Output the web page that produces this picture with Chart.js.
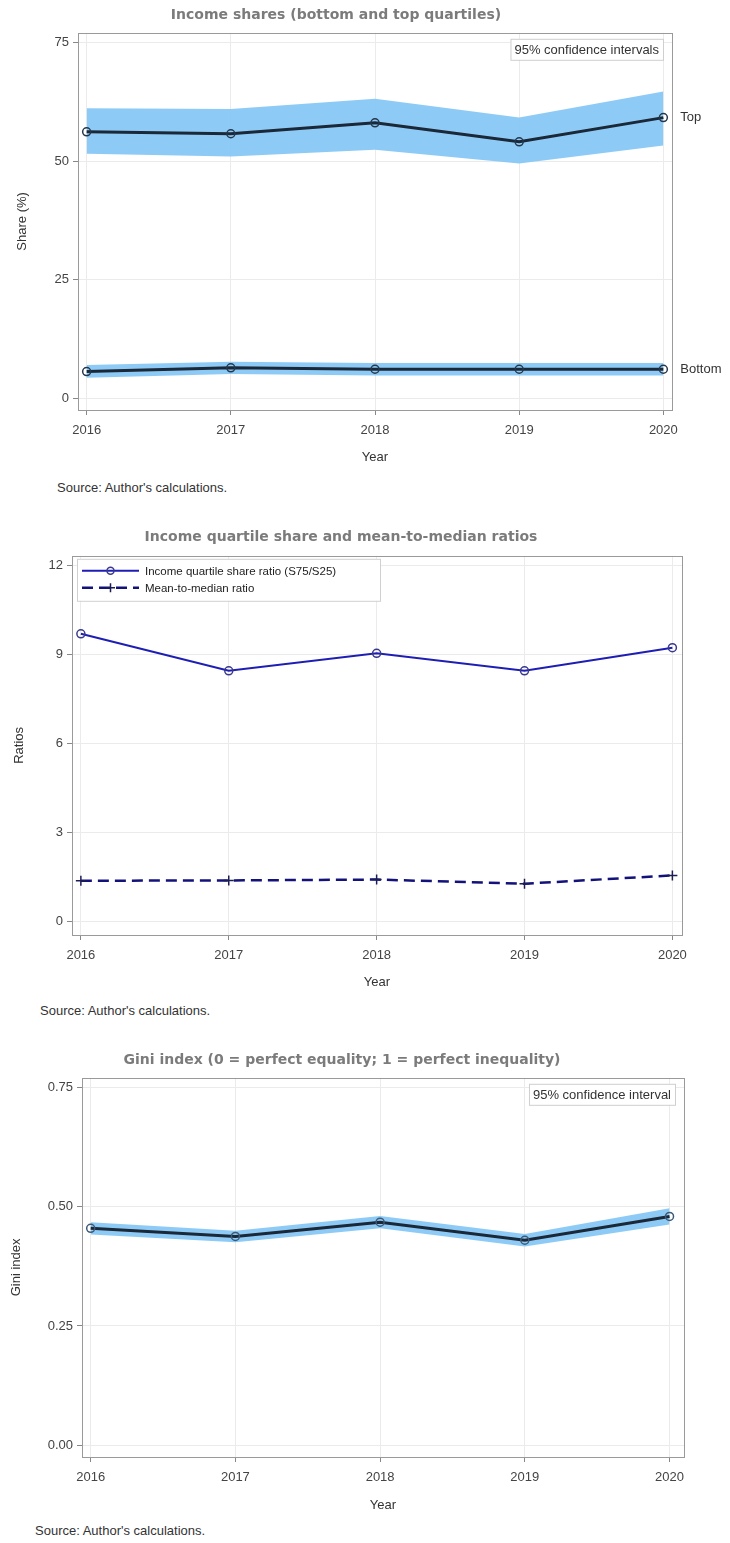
<!DOCTYPE html>
<html>
<head>
<meta charset="utf-8">
<script src="https://cdn.jsdelivr.net/npm/chart.js@4.4.1/dist/chart.umd.min.js"></script>
<style>
  body { margin: 0; background: #fff; width: 730px; height: 1543px; position: relative; overflow: hidden;
         font-family: "Liberation Sans", Arial, sans-serif; }
  .box { position: absolute; left: 0; width: 730px; }
  .src { position: absolute; font-size: 13px; color: #333; white-space: nowrap; }
</style>
</head>
<body>
<div class="box" style="top:0;height:470px"><canvas id="sharesChart"></canvas></div>
<div class="src" style="left:57px;top:480px">Source: Author's calculations.</div>
<div class="box" style="top:520px;height:475px"><canvas id="ratiosChart"></canvas></div>
<div class="src" style="left:40px;top:1003px">Source: Author's calculations.</div>
<div class="box" style="top:1043px;height:475px"><canvas id="giniChart"></canvas></div>
<div class="src" style="left:35px;top:1523px">Source: Author's calculations.</div>

<script>
// Datos
const years = [2016, 2017, 2018, 2019, 2020];

const topShare    = [56.2, 55.8, 58.1, 54.1, 59.2];
const topUpper    = [61.2, 61.0, 63.2, 59.2, 64.7];
const topLower    = [51.6, 51.0, 52.4, 49.5, 53.3];
const bottomShare = [5.6, 6.4, 6.1, 6.1, 6.1];
const bottomUpper = [7.0, 7.7, 7.4, 7.4, 7.4];
const bottomLower = [4.3, 5.1, 4.8, 4.8, 4.8];
const shareTicks  = [0, 25, 50, 75];

const quartileRatio = [9.71, 8.46, 9.05, 8.46, 9.24];
const meanMedian    = [1.38, 1.39, 1.42, 1.28, 1.56];
const ratioTicks    = [0, 3, 6, 9, 12];

const gini      = [0.455, 0.438, 0.468, 0.430, 0.480];
const giniUpper = [0.468, 0.450, 0.481, 0.443, 0.497];
const giniLower = [0.442, 0.426, 0.455, 0.417, 0.463];
const giniTicks = [0, 0.25, 0.5, 0.75];

const BAND = "rgba(135,200,246,0.95)";
const DARK = "#1b2838";
const TICK_FONT = { family: "'Liberation Sans', Arial, sans-serif", size: 13 };
const TITLE_FONT = { family: "'DejaVu Sans', sans-serif", size: 14, weight: "bold" };

function pts(vals) {
  return years.map((x, i) => ({ x: x, y: vals[i] }));
}

// Marco alrededor del área del gráfico
const framePlugin = {
  id: "frame",
  afterDraw(chart) {
    const a = chart.chartArea, ctx = chart.ctx;
    ctx.save();
    ctx.strokeStyle = "#9a9a9a";
    ctx.lineWidth = 1;
    ctx.strokeRect(Math.round(a.left) + 0.5, Math.round(a.top) + 0.5, Math.round(a.right - a.left), Math.round(a.bottom - a.top));
    ctx.restore();
  }
};

// Etiquetas al final de las líneas (Top / Bottom)
const endLabelsPlugin = {
  id: "endLabels",
  afterDatasetsDraw(chart, args, opts) {
    if (!opts.items) return;
    const ctx = chart.ctx;
    ctx.save();
    ctx.font = "13px 'Liberation Sans', Arial, sans-serif";
    ctx.fillStyle = "#333";
    ctx.textBaseline = "middle";
    opts.items.forEach(it => {
      const meta = chart.getDatasetMeta(it.dataset);
      const p = meta.data[meta.data.length - 1];
      ctx.fillText(it.text, p.x + 17, p.y);
    });
    ctx.restore();
  }
};

// Recuadro de texto arriba a la derecha
const insetPlugin = {
  id: "inset",
  afterDraw(chart, args, opts) {
    if (!opts.text) return;
    const a = chart.chartArea, ctx = chart.ctx;
    ctx.save();
    ctx.font = "13px 'Liberation Sans', Arial, sans-serif";
    const w = ctx.measureText(opts.text).width + 8;
    const x = a.right - 9 - w, y = a.top + 6, h = 21;
    ctx.fillStyle = "#fff";
    ctx.fillRect(x, y, w, h);
    ctx.strokeStyle = "#cfcfcf";
    ctx.strokeRect(x + 0.5, y + 0.5, w, h);
    ctx.fillStyle = "#333";
    ctx.textBaseline = "middle";
    ctx.fillText(opts.text, x + 4, y + h / 2 + 1);
    ctx.restore();
  }
};

// Leyenda dentro del área (gráfico de ratios)
const insideLegendPlugin = {
  id: "insideLegend",
  afterDraw(chart, args, opts) {
    if (!opts.items) return;
    const a = chart.chartArea, ctx = chart.ctx;
    const x = a.left + 5, y = a.top + 3, w = 303, h = 42;
    ctx.save();
    ctx.fillStyle = "#fff";
    ctx.fillRect(x, y, w, h);
    ctx.strokeStyle = "#d0d0d0";
    ctx.lineWidth = 1;
    ctx.strokeRect(x + 0.5, y + 0.5, w, h);
    ctx.font = "11.5px 'Liberation Sans', Arial, sans-serif";
    ctx.textBaseline = "middle";
    opts.items.forEach((it, i) => {
      const ds = chart.data.datasets[it.dataset];
      const ry = y + 12 + i * 17;
      ctx.strokeStyle = ds.borderColor;
      ctx.lineWidth = ds.borderWidth;
      ctx.setLineDash(ds.borderDash || []);
      ctx.beginPath();
      ctx.moveTo(x + 5, ry);
      ctx.lineTo(x + 62, ry);
      ctx.stroke();
      ctx.setLineDash([]);
      ctx.lineWidth = 1.5;
      ctx.strokeStyle = ds.pointBorderColor;
      ctx.beginPath();
      if (ds.pointStyle === "crossRot" || ds.pointStyle === "cross") {
        ctx.moveTo(x + 29, ry); ctx.lineTo(x + 38, ry);
        ctx.moveTo(x + 33.5, ry - 4.5); ctx.lineTo(x + 33.5, ry + 4.5);
      } else {
        ctx.arc(x + 33.5, ry, 3.5, 0, Math.PI * 2);
      }
      ctx.stroke();
      ctx.fillStyle = "#222";
      ctx.fillText(it.text, x + 68, ry + 1);
    });
    ctx.restore();
  }
};

function xAxis(min, max, height) {
  return {
    type: "linear",
    min: min,
    max: max,
    afterBuildTicks: s => { s.ticks = years.map(v => ({ value: v })); },
    afterFit: s => { s.height = height; },
    ticks: { font: TICK_FONT, color: "#444", padding: 8, maxRotation: 0, callback: v => String(v) },
    grid: { color: "#ebebeb", tickColor: "#888", tickLength: 5 },
    border: { display: false },
    title: { display: true, text: "Year", font: TICK_FONT, color: "#333", padding: { top: 0, bottom: 5 } }
  };
}

function yAxis(min, max, ticks, label, width, titlePad, fmt) {
  return {
    min: min,
    max: max,
    afterBuildTicks: s => { s.ticks = ticks.map(v => ({ value: v })); },
    afterFit: s => { s.width = width; },
    ticks: { font: TICK_FONT, color: "#444", padding: 4, callback: fmt },
    grid: { color: "#ebebeb", tickColor: "#888", tickLength: 5 },
    border: { display: false },
    title: { display: true, text: label, font: TICK_FONT, color: "#333", padding: { top: titlePad, bottom: 0 } }
  };
}

function baseOptions(title, titlePad) {
  return {
    responsive: true,
    maintainAspectRatio: false,
    animation: false,
    layout: { padding: { left: 0, right: 0, top: 0, bottom: 0 } },
    plugins: {
      legend: { display: false },
      tooltip: { enabled: false },
      title: { display: true, text: title, font: TITLE_FONT, color: "#7b7b7b", padding: titlePad }
    }
  };
}

function renderShares() {
  const opts = baseOptions("Income shares (bottom and top quartiles)", { top: 7, bottom: 9 });
  opts.layout.padding.right = 58;
  opts.scales = {
    x: xAxis(2015.94, 2020.06, 60),
    y: yAxis(-2.5, 77.1, shareTicks, "Share (%)", 78, 15, v => String(v))
  };
  opts.plugins.endLabels = { items: [{ dataset: 0, text: "Top" }, { dataset: 1, text: "Bottom" }] };
  opts.plugins.inset = { text: "95% confidence intervals" };

  const line = vals => ({
    data: pts(vals), borderColor: DARK, borderWidth: 3, pointRadius: 4,
    pointStyle: "circle", pointBackgroundColor: "rgba(0,0,0,0)", pointBorderColor: "#24384d", pointBorderWidth: 1.5
  });
  const band = (vals, fill) => ({
    data: pts(vals), borderWidth: 0, pointRadius: 0, backgroundColor: BAND, fill: fill
  });

  new Chart(document.getElementById("sharesChart"), {
    type: "line",
    data: {
      datasets: [
        line(topShare),
        line(bottomShare),
        band(topLower, false),
        band(topUpper, 2),
        band(bottomLower, false),
        band(bottomUpper, 4)
      ]
    },
    options: opts,
    plugins: [framePlugin, endLabelsPlugin, insetPlugin]
  });
}

function renderRatios() {
  const opts = baseOptions("Income quartile share and mean-to-median ratios", { top: 9, bottom: 10 });
  opts.layout.padding.right = 48;
  opts.scales = {
    x: xAxis(2015.94, 2020.065, 60),
    y: yAxis(-0.45, 12.34, ratioTicks, "Ratios", 72, 12, v => String(v))
  };
  opts.plugins.insideLegend = {
    items: [
      { dataset: 0, text: "Income quartile share ratio (S75/S25)" },
      { dataset: 1, text: "Mean-to-median ratio" }
    ]
  };

  new Chart(document.getElementById("ratiosChart"), {
    type: "line",
    data: {
      datasets: [
        {
          label: "Income quartile share ratio (S75/S25)",
          data: pts(quartileRatio), borderColor: "#1e1eb4", borderWidth: 2,
          pointStyle: "circle", pointRadius: 4, pointBackgroundColor: "rgba(0,0,0,0)",
          pointBorderColor: "#3a3a8c", pointBorderWidth: 1.5
        },
        {
          label: "Mean-to-median ratio",
          data: pts(meanMedian), borderColor: "#12127a", borderWidth: 2.5, borderDash: [11, 6],
          pointStyle: "cross", pointRadius: 5, pointBorderColor: "#1d1d55", pointBorderWidth: 1.5
        }
      ]
    },
    options: opts,
    plugins: [framePlugin, insideLegendPlugin]
  });
}

function renderGini() {
  const opts = baseOptions("Gini index (0 = perfect equality; 1 = perfect inequality)", { top: 9, bottom: 9 });
  opts.layout.padding.right = 46;
  opts.scales = {
    x: xAxis(2015.94, 2020.1, 61),
    y: yAxis(-0.025, 0.771, giniTicks, "Gini index", 82, 9, v => v.toFixed(2))
  };
  opts.plugins.inset = { text: "95% confidence interval" };

  new Chart(document.getElementById("giniChart"), {
    type: "line",
    data: {
      datasets: [
        {
          data: pts(gini), borderColor: DARK, borderWidth: 3, pointRadius: 4,
          pointStyle: "circle", pointBackgroundColor: "rgba(0,0,0,0)", pointBorderColor: "#3c5a78", pointBorderWidth: 1.5
        },
        { data: pts(giniLower), borderWidth: 0, pointRadius: 0, fill: false },
        { data: pts(giniUpper), borderWidth: 0, pointRadius: 0, backgroundColor: BAND, fill: 1 }
      ]
    },
    options: opts,
    plugins: [framePlugin, insetPlugin]
  });
}

document.addEventListener("DOMContentLoaded", () => {
  renderShares();
  renderRatios();
  renderGini();
});
</script>
</body>
</html>
